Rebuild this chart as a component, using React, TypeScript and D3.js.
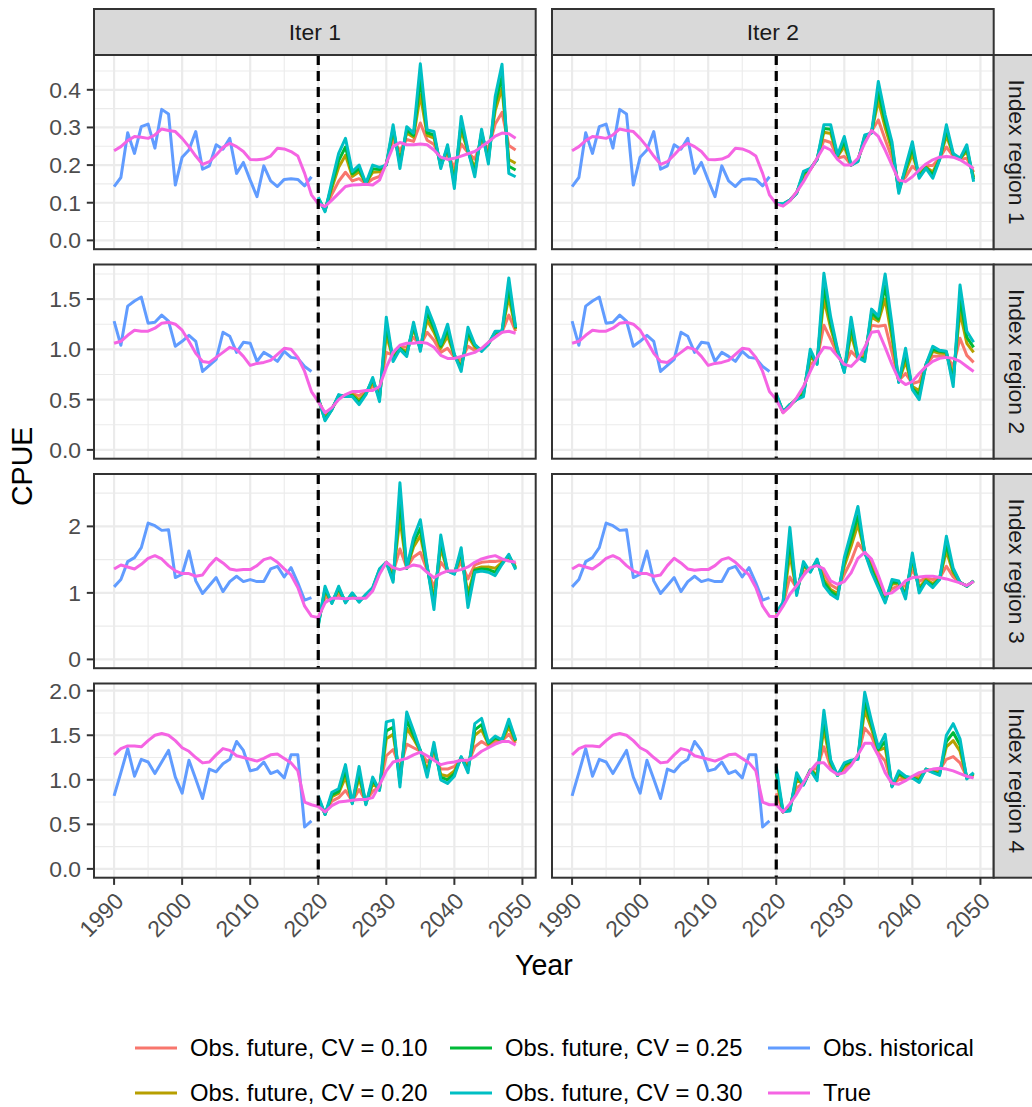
import React from "react";
import * as d3 from "d3";

// years
const histYears = d3.range(1990, 2020);
const futYears = d3.range(2020, 2050);
const allYears = d3.range(1990, 2050);

const colLabels = ["Iter 1", "Iter 2"];
const rowLabels = ["Index region 1", "Index region 2", "Index region 3", "Index region 4"];

const seriesNames = [
  "Obs. future, CV = 0.10",
  "Obs. future, CV = 0.20",
  "Obs. future, CV = 0.25",
  "Obs. future, CV = 0.30",
  "Obs. historical",
  "True",
];
const seriesColors = ["#F8766D", "#B79F00", "#00BA38", "#00BFC4", "#619CFF", "#F564E3"];

const xMajor = [1990, 2000, 2010, 2020, 2030, 2040, 2050];
const xMinor = [1995, 2005, 2015, 2025, 2035, 2045];
const yMajor = [
  [0, 0.1, 0.2, 0.3, 0.4],
  [0, 0.5, 1.0, 1.5],
  [0, 1, 2],
  [0, 0.5, 1.0, 1.5, 2.0],
];
const yMinor = [
  [0.05, 0.15, 0.25, 0.35, 0.45],
  [0.25, 0.75, 1.25, 1.75],
  [0.5, 1.5, 2.5],
  [0.25, 0.75, 1.25, 1.75],
];
const yFormats = [".1f", ".1f", "d", ".1f"];

// ---- Index region 1 ----
const obsHistR1 = [0.143,0.167,0.286,0.231,0.302,0.309,0.245,0.348,0.336,0.147,0.221,0.240,0.289,0.189,0.198,0.254,0.242,0.271,0.178,0.207,0.160,0.116,0.198,0.158,0.143,0.162,0.164,0.162,0.145,0.169];
const trueHistR1 = [0.238,0.249,0.265,0.276,0.274,0.271,0.280,0.296,0.292,0.289,0.271,0.249,0.224,0.202,0.209,0.227,0.247,0.258,0.249,0.236,0.215,0.214,0.216,0.224,0.245,0.243,0.236,0.224,0.178,0.121];
const trueFutI1R1 = [0.097,0.090,0.107,0.125,0.143,0.147,0.148,0.149,0.147,0.160,0.205,0.249,0.260,0.254,0.254,0.256,0.254,0.240,0.221,0.215,0.218,0.224,0.230,0.236,0.249,0.262,0.277,0.285,0.283,0.271];
const cv10I1R1 = [0.102,0.086,0.122,0.157,0.181,0.158,0.164,0.150,0.163,0.170,0.204,0.266,0.239,0.268,0.263,0.312,0.266,0.255,0.212,0.227,0.194,0.256,0.233,0.216,0.263,0.244,0.309,0.340,0.252,0.240];
const cv20I1R1 = [0.109,0.081,0.139,0.194,0.226,0.170,0.182,0.151,0.181,0.182,0.202,0.287,0.215,0.285,0.274,0.387,0.279,0.272,0.202,0.240,0.166,0.292,0.237,0.192,0.279,0.224,0.345,0.404,0.215,0.205];
const cv25I1R1 = [0.112,0.079,0.147,0.212,0.248,0.177,0.191,0.151,0.190,0.188,0.201,0.297,0.203,0.293,0.279,0.427,0.286,0.280,0.196,0.247,0.152,0.310,0.238,0.181,0.287,0.214,0.363,0.435,0.197,0.187];
const cv30I1R1 = [0.115,0.076,0.156,0.231,0.271,0.183,0.200,0.152,0.200,0.194,0.200,0.307,0.191,0.302,0.285,0.469,0.293,0.289,0.191,0.254,0.138,0.329,0.240,0.169,0.295,0.203,0.382,0.468,0.178,0.169];
const trueFutI2R1 = [0.097,0.091,0.105,0.129,0.156,0.187,0.218,0.249,0.240,0.215,0.200,0.200,0.218,0.258,0.292,0.276,0.240,0.200,0.160,0.156,0.169,0.187,0.203,0.214,0.221,0.223,0.221,0.214,0.203,0.191];
const cv10I2R1 = [0.097,0.093,0.106,0.128,0.164,0.188,0.217,0.266,0.260,0.219,0.223,0.200,0.215,0.265,0.290,0.320,0.268,0.219,0.150,0.168,0.197,0.180,0.199,0.199,0.219,0.248,0.224,0.215,0.218,0.181];
const cv20I2R1 = [0.098,0.095,0.106,0.126,0.174,0.190,0.215,0.287,0.284,0.223,0.249,0.200,0.212,0.272,0.287,0.371,0.300,0.240,0.137,0.182,0.229,0.173,0.195,0.182,0.216,0.278,0.228,0.217,0.236,0.168];
const cv25I2R1 = [0.098,0.096,0.107,0.126,0.178,0.190,0.215,0.297,0.295,0.225,0.262,0.200,0.211,0.276,0.286,0.396,0.316,0.251,0.131,0.189,0.245,0.169,0.193,0.174,0.215,0.292,0.229,0.217,0.245,0.162];
const cv30I2R1 = [0.098,0.097,0.107,0.125,0.183,0.191,0.214,0.307,0.307,0.227,0.276,0.200,0.209,0.280,0.285,0.422,0.333,0.262,0.125,0.196,0.262,0.165,0.191,0.165,0.214,0.307,0.231,0.218,0.254,0.156];

// ---- Index region 2 ----
const obsHistR2 = [1.28,1.04,1.43,1.48,1.52,1.26,1.27,1.34,1.28,1.03,1.08,1.14,1.08,0.78,0.84,0.90,1.17,1.13,0.97,1.07,1.06,0.88,0.97,0.93,0.88,0.98,0.92,0.91,0.83,0.78];
const trueHistR2 = [1.06,1.08,1.14,1.19,1.18,1.18,1.21,1.26,1.27,1.25,1.19,1.08,0.96,0.88,0.87,0.92,0.97,1.02,1.00,0.93,0.84,0.86,0.87,0.89,0.95,1.01,1.00,0.92,0.78,0.58];
const trueFutI1R2 = [0.48,0.37,0.42,0.50,0.55,0.58,0.58,0.59,0.59,0.63,0.82,0.97,1.04,1.06,1.06,1.07,1.06,1.02,0.94,0.91,0.91,0.93,0.95,0.97,1.01,1.07,1.12,1.17,1.18,1.16];
const cv10I1R2 = [0.49,0.35,0.41,0.52,0.54,0.56,0.54,0.58,0.63,0.59,0.97,0.94,1.03,1.02,1.12,1.04,1.17,1.09,0.97,1.01,0.92,0.89,1.03,0.99,1.00,1.06,1.14,1.17,1.34,1.18];
const cv20I1R2 = [0.51,0.32,0.41,0.53,0.54,0.55,0.50,0.56,0.67,0.53,1.14,0.91,1.01,0.98,1.20,1.01,1.29,1.17,1.01,1.13,0.94,0.83,1.13,1.02,0.99,1.06,1.16,1.18,1.52,1.20];
const cv25I1R2 = [0.51,0.30,0.40,0.54,0.53,0.54,0.47,0.56,0.70,0.51,1.23,0.90,1.01,0.95,1.23,1.00,1.36,1.21,1.03,1.19,0.94,0.81,1.17,1.04,0.99,1.05,1.17,1.18,1.61,1.21];
const cv30I1R2 = [0.52,0.29,0.40,0.55,0.53,0.53,0.45,0.55,0.72,0.48,1.32,0.88,1.00,0.93,1.27,0.98,1.42,1.25,1.05,1.25,0.95,0.78,1.22,1.05,0.98,1.05,1.18,1.18,1.71,1.22];
const trueFutI2R2 = [0.50,0.37,0.43,0.52,0.63,0.78,0.92,1.02,1.01,0.93,0.85,0.83,0.90,1.02,1.17,1.18,1.02,0.85,0.70,0.65,0.68,0.76,0.83,0.88,0.91,0.92,0.91,0.88,0.83,0.78];
const cv10I2R2 = [0.52,0.37,0.44,0.51,0.60,0.85,0.90,1.24,1.10,0.95,0.83,0.98,0.91,0.98,1.24,1.23,1.24,0.97,0.69,0.76,0.66,0.68,0.84,0.93,0.93,0.94,0.83,1.11,0.94,0.87];
const cv20I2R2 = [0.54,0.38,0.44,0.51,0.57,0.92,0.87,1.50,1.21,0.98,0.80,1.15,0.91,0.93,1.32,1.28,1.50,1.11,0.68,0.88,0.63,0.59,0.84,0.98,0.96,0.96,0.73,1.37,1.06,0.97];
const cv25I2R2 = [0.55,0.38,0.45,0.50,0.55,0.96,0.86,1.62,1.26,0.99,0.78,1.23,0.92,0.90,1.36,1.30,1.63,1.18,0.68,0.95,0.61,0.55,0.85,1.00,0.98,0.97,0.68,1.50,1.12,1.02];
const cv30I2R2 = [0.56,0.38,0.45,0.50,0.53,1.00,0.85,1.756,1.32,1.00,0.77,1.32,0.92,0.88,1.40,1.33,1.75,1.25,0.67,1.01,0.60,0.50,0.85,1.03,0.99,0.98,0.63,1.64,1.18,1.07];

// ---- Index region 3 ----
const obsHistR3 = [1.09,1.20,1.47,1.53,1.68,2.05,2.01,1.94,1.95,1.23,1.28,1.63,1.18,0.99,1.11,1.23,1.02,1.17,1.25,1.17,1.20,1.17,1.17,1.36,1.40,1.24,1.38,1.15,0.89,0.93];
const trueHistR3 = [1.36,1.42,1.39,1.36,1.43,1.52,1.56,1.51,1.41,1.33,1.29,1.29,1.25,1.27,1.41,1.52,1.45,1.36,1.34,1.35,1.35,1.41,1.50,1.53,1.46,1.36,1.27,1.08,0.80,0.65];
const trueFutI1R3 = [0.63,0.85,0.92,0.92,0.91,0.92,0.92,0.92,1.03,1.28,1.46,1.38,1.35,1.38,1.42,1.40,1.31,1.23,1.29,1.33,1.33,1.35,1.39,1.46,1.51,1.54,1.56,1.51,1.48,1.46];
const cv10I1R3 = [0.59,0.93,0.90,0.97,0.89,0.94,0.90,0.94,1.05,1.30,1.46,1.31,1.66,1.38,1.54,1.61,1.34,1.09,1.46,1.33,1.32,1.45,1.21,1.42,1.46,1.47,1.47,1.49,1.51,1.43];
const cv20I1R3 = [0.55,1.01,0.87,1.04,0.87,0.97,0.88,0.96,1.06,1.33,1.46,1.24,2.12,1.37,1.69,1.86,1.38,0.92,1.67,1.33,1.30,1.56,0.99,1.36,1.39,1.39,1.37,1.46,1.55,1.39];
const cv25I1R3 = [0.52,1.06,0.85,1.07,0.86,0.99,0.87,0.97,1.07,1.35,1.46,1.20,2.38,1.37,1.76,1.97,1.39,0.84,1.77,1.33,1.29,1.62,0.89,1.34,1.36,1.35,1.31,1.44,1.56,1.37];
const cv30I1R3 = [0.50,1.10,0.84,1.10,0.85,1.00,0.86,0.98,1.08,1.36,1.46,1.16,2.655,1.37,1.83,2.10,1.41,0.75,1.87,1.33,1.28,1.68,0.78,1.31,1.33,1.31,1.26,1.43,1.58,1.35];
const trueFutI2R3 = [0.64,0.80,0.98,1.11,1.26,1.38,1.41,1.36,1.18,1.13,1.17,1.30,1.52,1.61,1.51,1.26,0.98,1.00,1.08,1.18,1.23,1.24,1.25,1.25,1.23,1.21,1.18,1.15,1.11,1.17];
const cv10I2R3 = [0.66,0.82,1.24,1.07,1.32,1.36,1.44,1.29,1.12,1.06,1.28,1.48,1.75,1.61,1.45,1.21,0.94,1.06,1.11,1.10,1.34,1.17,1.23,1.20,1.22,1.40,1.24,1.15,1.11,1.17];
const cv20I2R3 = [0.68,0.84,1.58,1.01,1.40,1.33,1.48,1.20,1.05,0.99,1.40,1.70,2.03,1.61,1.38,1.14,0.90,1.13,1.15,1.00,1.47,1.08,1.20,1.14,1.21,1.63,1.30,1.16,1.10,1.18];
const cv25I2R3 = [0.69,0.85,1.78,0.99,1.43,1.32,1.49,1.16,1.02,0.95,1.47,1.80,2.16,1.61,1.35,1.11,0.87,1.16,1.16,0.96,1.53,1.04,1.18,1.11,1.21,1.73,1.34,1.16,1.10,1.18];
const cv30I2R3 = [0.70,0.86,1.985,0.96,1.47,1.31,1.51,1.11,0.98,0.91,1.53,1.91,2.30,1.61,1.31,1.08,0.85,1.20,1.18,0.91,1.60,1.00,1.17,1.08,1.20,1.85,1.37,1.16,1.10,1.18];

// ---- Index region 4 ----
const obsHistR4 = [0.82,1.08,1.35,1.04,1.23,1.20,1.07,1.20,1.33,1.03,0.85,1.22,1.01,0.79,1.12,1.09,1.18,1.23,1.43,1.33,1.10,1.12,1.20,1.07,1.10,1.02,1.28,1.28,0.47,0.54];
const trueHistR4 = [1.28,1.35,1.38,1.38,1.37,1.44,1.50,1.52,1.50,1.44,1.36,1.32,1.25,1.19,1.20,1.28,1.35,1.33,1.27,1.25,1.23,1.21,1.24,1.28,1.29,1.24,1.19,1.10,0.75,0.72];
const trueFutI1R4 = [0.70,0.64,0.71,0.75,0.76,0.77,0.78,0.78,0.80,0.94,1.10,1.20,1.22,1.24,1.28,1.31,1.27,1.22,1.17,1.19,1.20,1.22,1.22,1.26,1.32,1.36,1.40,1.43,1.43,1.39];
const cv10I1R4 = [0.74,0.63,0.76,0.80,0.88,0.76,0.89,0.76,0.87,0.92,1.27,1.34,1.13,1.40,1.36,1.32,1.20,1.28,1.12,1.12,1.15,1.23,1.18,1.37,1.43,1.38,1.43,1.44,1.51,1.41];
const cv20I1R4 = [0.78,0.62,0.81,0.85,1.03,0.74,1.02,0.74,0.95,0.90,1.46,1.51,1.03,1.58,1.46,1.32,1.11,1.35,1.06,1.04,1.10,1.25,1.13,1.50,1.56,1.40,1.46,1.44,1.59,1.43];
const cv25I1R4 = [0.80,0.61,0.83,0.87,1.10,0.74,1.08,0.73,0.99,0.89,1.55,1.59,0.97,1.67,1.50,1.33,1.07,1.38,1.03,1.00,1.07,1.25,1.11,1.56,1.62,1.41,1.47,1.45,1.64,1.44];
const cv30I1R4 = [0.82,0.61,0.86,0.90,1.17,0.73,1.15,0.72,1.03,0.88,1.65,1.67,0.92,1.76,1.55,1.33,1.03,1.42,1.00,0.96,1.04,1.26,1.08,1.63,1.69,1.42,1.49,1.45,1.68,1.45];
const trueFutI2R4 = [0.72,0.64,0.73,0.84,0.97,1.10,1.19,1.19,1.11,1.06,1.08,1.16,1.28,1.41,1.41,1.27,1.08,0.96,0.95,0.99,1.04,1.08,1.10,1.12,1.13,1.12,1.10,1.07,1.04,1.02];
const cv10I2R4 = [0.85,0.64,0.71,0.91,0.96,1.10,1.13,1.37,1.14,1.06,1.11,1.18,1.27,1.58,1.49,1.30,1.21,0.95,1.00,1.01,1.03,1.05,1.11,1.11,1.11,1.23,1.26,1.19,1.03,1.04];
const cv20I2R4 = [1.00,0.64,0.68,1.00,0.95,1.11,1.06,1.57,1.18,1.05,1.15,1.20,1.25,1.78,1.57,1.33,1.36,0.93,1.05,1.02,1.03,1.01,1.11,1.09,1.08,1.37,1.44,1.32,1.02,1.06];
const cv25I2R4 = [1.07,0.64,0.66,1.04,0.95,1.11,1.03,1.67,1.20,1.05,1.17,1.21,1.24,1.88,1.62,1.34,1.43,0.93,1.07,1.03,1.02,0.99,1.12,1.09,1.06,1.43,1.53,1.39,1.02,1.07];
const cv30I2R4 = [1.15,0.64,0.65,1.08,0.94,1.11,0.99,1.78,1.22,1.05,1.19,1.22,1.23,1.982,1.66,1.36,1.51,0.92,1.10,1.04,1.02,0.97,1.12,1.08,1.05,1.50,1.63,1.46,1.01,1.08];

type Series = { years: number[]; values: number[] };

function panelSeries(cvs: number[][], hist: number[], trueHist: number[], trueFut: number[]): Series[] {
  return [
    ...cvs.map((v) => ({ years: futYears, values: v })),
    { years: histYears, values: hist },
    { years: allYears, values: [...trueHist, ...trueFut] },
  ];
}

const panels: Series[][][] = [
  [
    panelSeries([cv10I1R1, cv20I1R1, cv25I1R1, cv30I1R1], obsHistR1, trueHistR1, trueFutI1R1),
    panelSeries([cv10I2R1, cv20I2R1, cv25I2R1, cv30I2R1], obsHistR1, trueHistR1, trueFutI2R1),
  ],
  [
    panelSeries([cv10I1R2, cv20I1R2, cv25I1R2, cv30I1R2], obsHistR2, trueHistR2, trueFutI1R2),
    panelSeries([cv10I2R2, cv20I2R2, cv25I2R2, cv30I2R2], obsHistR2, trueHistR2, trueFutI2R2),
  ],
  [
    panelSeries([cv10I1R3, cv20I1R3, cv25I1R3, cv30I1R3], obsHistR3, trueHistR3, trueFutI1R3),
    panelSeries([cv10I2R3, cv20I2R3, cv25I2R3, cv30I2R3], obsHistR3, trueHistR3, trueFutI2R3),
  ],
  [
    panelSeries([cv10I1R4, cv20I1R4, cv25I1R4, cv30I1R4], obsHistR4, trueHistR4, trueFutI1R4),
    panelSeries([cv10I2R4, cv20I2R4, cv25I2R4, cv30I2R4], obsHistR4, trueHistR4, trueFutI2R4),
  ],
];

const W = 1032;
const H = 1107;
const FONT = "'Liberation Sans', Arial, Helvetica, sans-serif";
const colLefts = [94, 552];
const panelW = 441.7;
const rowTops = [55, 264.5, 474, 683.5];
const panelH = 194.2;
const stripH = 46;
const tickLen = 7.2;
const xPad = (2049 - 1990) * 0.05;

export default function App() {
  const xs = colLefts.map((l) =>
    d3.scaleLinear().domain([1990 - xPad, 2049 + xPad]).range([l, l + panelW])
  );
  const ys = rowTops.map((t, ri) => {
    const m = d3.max(panels[ri].flat(), (s) => d3.max(s.values)) as number;
    return d3.scaleLinear().domain([-0.05 * m, 1.05 * m]).range([t + panelH, t]);
  });

  const legendCols = [135, 450, 768];
  const legendText = [190, 505, 823];
  const legendRows = [1048, 1093];

  return (
    <svg
      width={W}
      height={H}
      style={{ position: "absolute", left: 0, top: 0 }}
      fontFamily={FONT}
    >
      <rect width={W} height={H} fill="#fff" />
      {rowTops.map((top, ri) =>
        colLefts.map((left, ci) => {
          const x = xs[ci];
          const y = ys[ri];
          const bottom = top + panelH;
          return (
            <g key={`p${ri}${ci}`}>
              <rect x={left} y={top} width={panelW} height={panelH} fill="#fff" />
              {xMinor.map((t) => (
                <line key={`xm${t}`} x1={x(t)} x2={x(t)} y1={top} y2={bottom} stroke="#EBEBEB" strokeWidth={1.1} />
              ))}
              {yMinor[ri].map((t) => (
                <line key={`ym${t}`} x1={left} x2={left + panelW} y1={y(t)} y2={y(t)} stroke="#EBEBEB" strokeWidth={1.1} />
              ))}
              {xMajor.map((t) => (
                <line key={`xM${t}`} x1={x(t)} x2={x(t)} y1={top} y2={bottom} stroke="#EBEBEB" strokeWidth={2.2} />
              ))}
              {yMajor[ri].map((t) => (
                <line key={`yM${t}`} x1={left} x2={left + panelW} y1={y(t)} y2={y(t)} stroke="#EBEBEB" strokeWidth={2.2} />
              ))}
              {panels[ri][ci].map((s, si) => {
                const gen = d3
                  .line<number>()
                  .x((_, i) => x(s.years[i]))
                  .y((v) => y(v));
                return (
                  <path
                    key={`s${si}`}
                    d={gen(s.values) ?? ""}
                    fill="none"
                    stroke={seriesColors[si]}
                    strokeWidth={3}
                    strokeLinejoin="round"
                  />
                );
              })}
              <line
                x1={x(2020)}
                x2={x(2020)}
                y1={top}
                y2={bottom}
                stroke="#000"
                strokeWidth={3.2}
                strokeDasharray="10 6"
              />
              <rect x={left} y={top} width={panelW} height={panelH} fill="none" stroke="#333333" strokeWidth={2} />

              {ri === 0 && (
                <g>
                  <rect x={left} y={top - stripH} width={panelW} height={stripH} fill="#D9D9D9" stroke="#333333" strokeWidth={2} />
                  <text x={left + panelW / 2} y={top - stripH / 2} dy="0.35em" textAnchor="middle" fontSize={22.9} fill="#1A1A1A">
                    {colLabels[ci]}
                  </text>
                </g>
              )}
              {ci === 1 && (
                <g>
                  <rect x={left + panelW} y={top} width={stripH} height={panelH} fill="#D9D9D9" stroke="#333333" strokeWidth={2} />
                  <text
                    transform={`translate(${left + panelW + stripH / 2},${top + panelH / 2}) rotate(90)`}
                    dy="0.35em"
                    textAnchor="middle"
                    fontSize={22.9}
                    fill="#1A1A1A"
                  >
                    {rowLabels[ri]}
                  </text>
                </g>
              )}
              {ci === 0 &&
                yMajor[ri].map((t) => (
                  <g key={`yt${t}`}>
                    <line x1={left - tickLen} x2={left} y1={y(t)} y2={y(t)} stroke="#333333" strokeWidth={2} />
                    <text x={left - tickLen - 5.7} y={y(t)} dy="0.35em" textAnchor="end" fontSize={22.9} fill="#4D4D4D">
                      {d3.format(yFormats[ri])(t)}
                    </text>
                  </g>
                ))}
              {ri === 3 &&
                xMajor.map((t) => (
                  <g key={`xt${t}`}>
                    <line x1={x(t)} x2={x(t)} y1={bottom} y2={bottom + tickLen} stroke="#333333" strokeWidth={2} />
                    <text
                      transform={`translate(${x(t) + 11},${bottom + tickLen + 5.7 + 12}) rotate(-45)`}
                      textAnchor="end"
                      fontSize={22.9}
                      fill="#4D4D4D"
                    >
                      {t}
                    </text>
                  </g>
                ))}
            </g>
          );
        })
      )}

      <text x={(colLefts[0] + colLefts[1] + panelW) / 2} y={975} textAnchor="middle" fontSize={28.6} fill="#000">
        Year
      </text>
      <text
        transform={`translate(32,${(rowTops[0] + rowTops[3] + panelH) / 2}) rotate(-90)`}
        textAnchor="middle"
        fontSize={28.6}
        fill="#000"
      >
        CPUE
      </text>

      {seriesNames.map((name, i) => {
        const c = Math.floor(i / 2);
        const r = i % 2;
        const yy = legendRows[r];
        return (
          <g key={`lg${i}`}>
            <line x1={legendCols[c]} x2={legendCols[c] + 42} y1={yy} y2={yy} stroke={seriesColors[i]} strokeWidth={3} />
            <text x={legendText[c]} y={yy} dy="0.35em" fontSize={23.8} fill="#000">
              {name}
            </text>
          </g>
        );
      })}
    </svg>
  );
}
